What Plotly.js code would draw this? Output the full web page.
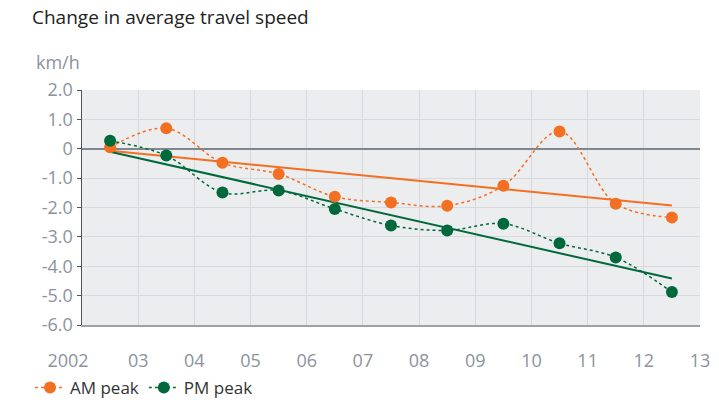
<!DOCTYPE html>
<html>
<head>
<meta charset="utf-8">
<script src="https://cdn.plot.ly/plotly-3.0.1.min.js"></script>
<style>
  body { margin: 0; background: #fff; }
  #plot { width: 719px; height: 400px; }
</style>
</head>
<body>
<div id="plot"></div>
<script>
// Change in average travel speed, km/h
let years = [2002.5, 2003.5, 2004.5, 2005.5, 2006.5, 2007.5, 2008.5, 2009.5, 2010.5, 2011.5, 2012.5];
let amPeak = [0.05, 0.70, -0.48, -0.86, -1.63, -1.83, -1.94, -1.26, 0.59, -1.87, -2.34];
let pmPeak = [0.27, -0.23, -1.49, -1.42, -2.05, -2.61, -2.78, -2.55, -3.22, -3.70, -4.88];

// trend line end points
let trendYears = [2002.5, 2012.5];
let amTrend = [-0.07, -1.93];
let pmTrend = [-0.10, -4.42];

let xTicks = [2002, 2003, 2004, 2005, 2006, 2007, 2008, 2009, 2010, 2011, 2012, 2013];
// first label sits a little left of the axis in the original
let xLabels = ['2002\u00a0\u00a0\u00a0\u00a0\u00a0\u00a0', '03', '04', '05', '06', '07', '08', '09', '10', '11', '12', '13'];
let yTicks = [2, 1, 0, -1, -2, -3, -4, -5, -6];
let yLabels = ['2.0', '1.0', '0', '-1.0', '-2.0', '-3.0', '-4.0', '-5.0', '-6.0'];

let orange = '#f36f21';
let green = '#00693c';

let amTrendLine = {
  x: trendYears, y: amTrend, mode: 'lines', showlegend: false, hoverinfo: 'skip',
  line: { color: orange, width: 2 }
};

let pmTrendLine = {
  x: trendYears, y: pmTrend, mode: 'lines', showlegend: false, hoverinfo: 'skip',
  line: { color: green, width: 2 }
};

let amTrace = {
  x: years, y: amPeak, name: 'AM peak', mode: 'lines+markers',
  line: { color: orange, width: 1.5, dash: 'dot', shape: 'spline', smoothing: 1 },
  marker: { color: orange, size: 12 }
};

let pmTrace = {
  x: years, y: pmPeak, name: 'PM peak', mode: 'lines+markers',
  line: { color: green, width: 1.5, dash: 'dot', shape: 'spline', smoothing: 1 },
  marker: { color: green, size: 12 }
};

let data = [amTrendLine, pmTrendLine, amTrace, pmTrace];

let layout = {
  width: 719,
  height: 400,
  margin: { l: 82, r: 19, t: 90, b: 75, autoexpand: false },
  paper_bgcolor: '#ffffff',
  plot_bgcolor: '#ecedef',
  font: { family: 'Open Sans, sans-serif', color: '#8a939d', size: 16 },
  title: {
    text: 'Change in average travel speed',
    xref: 'container', yref: 'container',
    x: 32 / 719, xanchor: 'left',
    y: 1 - 17 / 400, yanchor: 'middle',
    font: { size: 19, color: '#222222' }
  },
  xaxis: {
    range: [2002, 2013],
    tickvals: xTicks,
    ticktext: xLabels,
    showgrid: true,
    gridcolor: '#d6d9dd',
    showline: true,
    linecolor: '#9ba2a9',
    linewidth: 2,
    ticks: '',
    ticklabelstandoff: 18,
    zeroline: false,
    tickfont: { size: 18, color: '#8a939d' },
    fixedrange: true
  },
  yaxis: {
    range: [-6, 2],
    tickvals: yTicks,
    ticktext: yLabels,
    showgrid: true,
    gridcolor: '#d6d9dd',
    showline: true,
    linecolor: '#4b5661',
    linewidth: 1.5,
    ticks: 'outside',
    ticklen: 4,
    tickcolor: '#4b5661',
    zeroline: true,
    zerolinecolor: '#7f878e',
    zerolinewidth: 2,
    tickfont: { size: 18, color: '#8a939d' },
    fixedrange: true
  },
  showlegend: true,
  legend: {
    orientation: 'h',
    xref: 'container', yref: 'container',
    x: 30 / 719, xanchor: 'left',
    y: 12 / 400, yanchor: 'middle',
    itemwidth: 30,
    font: { size: 17, color: '#333333' },
    bgcolor: 'rgba(0,0,0,0)'
  },
  annotations: [
    {
      text: 'km/h', xref: 'paper', yref: 'paper',
      x: -0.078, y: 1.119, xanchor: 'left', yanchor: 'middle', showarrow: false,
      font: { size: 18, color: '#8a939d' }
    }
  ]
};

Plotly.newPlot('plot', data, layout, { displayModeBar: false, staticPlot: true });
</script>
</body>
</html>
